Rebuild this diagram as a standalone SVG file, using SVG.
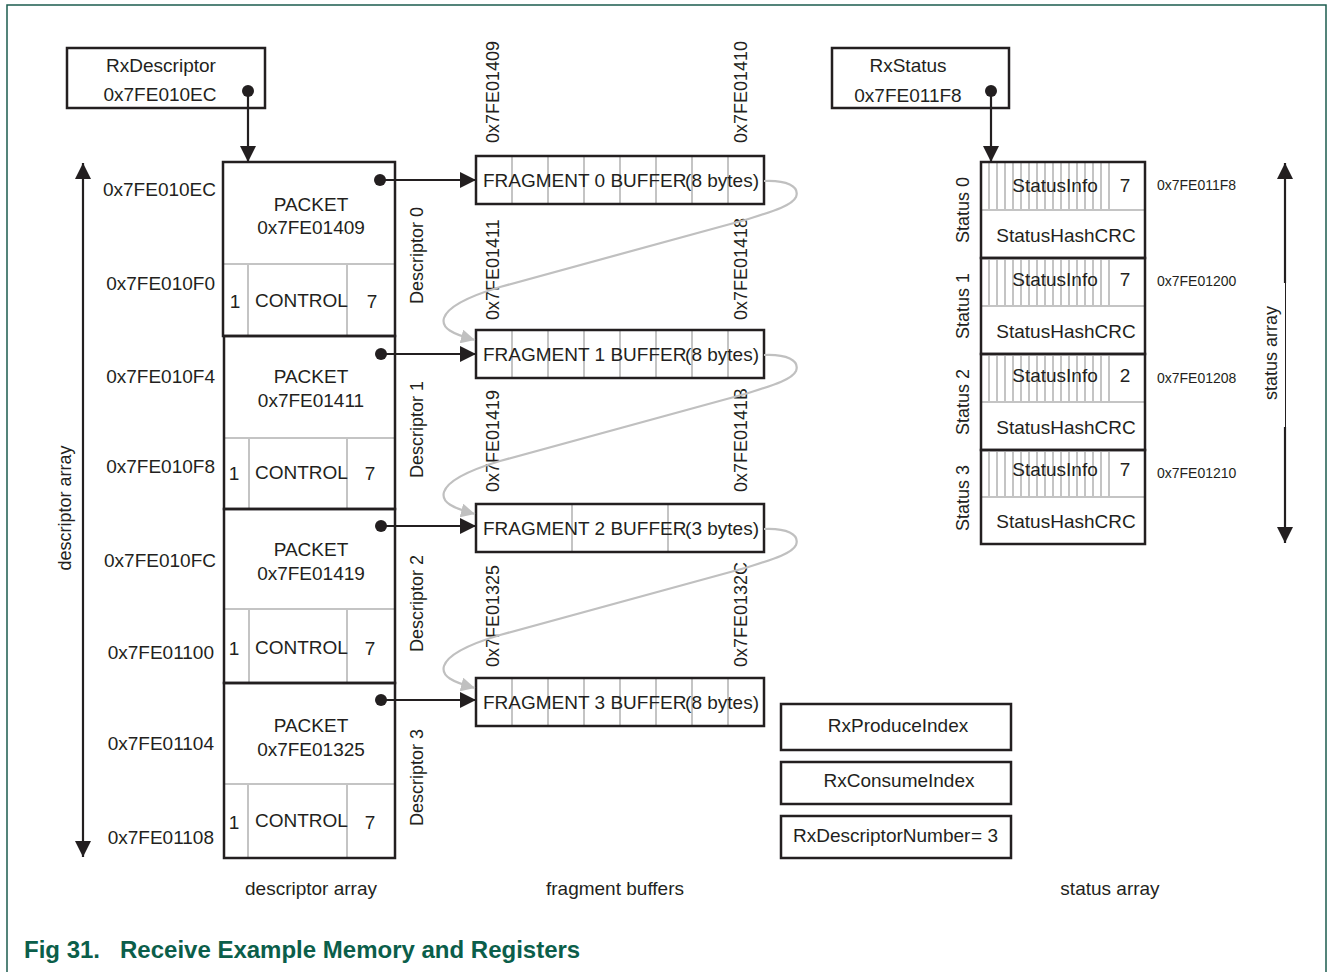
<svg xmlns="http://www.w3.org/2000/svg" width="1328" height="972" viewBox="0 0 1328 972">
<style>
text{font-family:"Liberation Sans",Arial,sans-serif;fill:#231f20;font-size:19px}
.c{text-anchor:middle}
.e{text-anchor:end}
.r{font-size:18px}
.s{font-size:14px}
.box{fill:none;stroke:#231f20;stroke-width:2.5}
.g{fill:none;stroke:#c4c4c4;stroke-width:2}
.ln{fill:none;stroke:#231f20;stroke-width:2.2}
.gc{fill:none;stroke:#c0c0c0;stroke-width:2.2}
.dot{fill:#231f20}
.cap{font-weight:bold;font-size:24px;fill:#0b5e4a}
</style>
<defs>
<marker id="ah" markerUnits="userSpaceOnUse" markerWidth="16" markerHeight="16" viewBox="0 0 16 16" refX="16" refY="8" orient="auto-start-reverse"><path d="M0,0 L16,8 L0,16 z" fill="#231f20"/></marker>
<marker id="gh" markerUnits="userSpaceOnUse" markerWidth="14" markerHeight="14" viewBox="0 0 14 14" refX="14" refY="7" orient="auto"><path d="M0,0 L14,7 L0,14 z" fill="#c0c0c0"/></marker>
</defs>
<rect width="1328" height="972" fill="#ffffff"/>
<path d="M7,972 V5 H1326 V972" fill="none" stroke="#1d5c4f" stroke-width="1.5"/>

<g id="rxdescriptor">
<rect class="box" x="67" y="48" width="198" height="60"/>
<text class="c" x="161" y="72">RxDescriptor</text>
<text class="c" x="160" y="101">0x7FE010EC</text>
<circle class="dot" cx="248" cy="91" r="6"/>
</g>

<g id="rxstatus">
<rect class="box" x="832" y="48" width="177" height="60"/>
<text class="c" x="908" y="72">RxStatus</text>
<text class="c" x="908" y="102">0x7FE011F8</text>
<circle class="dot" cx="991" cy="91" r="6"/>
</g>

<g id="descriptor-array-axis">
<text class="e" x="216" y="196">0x7FE010EC</text>
<text class="e" x="215" y="290">0x7FE010F0</text>
<text class="e" x="215" y="383">0x7FE010F4</text>
<text class="e" x="215" y="473">0x7FE010F8</text>
<text class="e" x="216" y="567">0x7FE010FC</text>
<text class="e" x="214" y="659">0x7FE01100</text>
<text class="e" x="214" y="750">0x7FE01104</text>
<text class="e" x="214" y="844">0x7FE01108</text>
<text class="c r" x="71" y="508" transform="rotate(-90 71 508)">descriptor array</text>
</g>

<g id="descriptor0">
<path class="g" d="M223,264 H395 M248,264 V336 M347,264 V336"/>
<rect class="box" x="223" y="162" width="172" height="174"/>
<text class="c" x="311" y="211">PACKET</text>
<text class="c" x="311" y="234">0x7FE01409</text>
<text class="c" x="235" y="308">1</text>
<text x="255" y="307">CONTROL</text>
<text class="c" x="372" y="308">7</text>
<circle class="dot" cx="380" cy="180" r="6"/>
<text class="r" x="423" y="304" transform="rotate(-90 423 304)">Descriptor 0</text>
</g>

<g id="descriptor1">
<path class="g" d="M224,438 H395 M249,438 V509 M347,438 V509"/>
<rect class="box" x="224" y="336" width="171" height="173"/>
<text class="c" x="311" y="383">PACKET</text>
<text class="c" x="311" y="407">0x7FE01411</text>
<text class="c" x="234" y="480">1</text>
<text x="255" y="479">CONTROL</text>
<text class="c" x="370" y="480">7</text>
<circle class="dot" cx="381" cy="354" r="6"/>
<text class="r" x="423" y="478" transform="rotate(-90 423 478)">Descriptor 1</text>
</g>

<g id="descriptor2">
<path class="g" d="M224,609 H395 M249,609 V683 M347,609 V683"/>
<rect class="box" x="224" y="509" width="171" height="174"/>
<text class="c" x="311" y="556">PACKET</text>
<text class="c" x="311" y="580">0x7FE01419</text>
<text class="c" x="234" y="655">1</text>
<text x="255" y="654">CONTROL</text>
<text class="c" x="370" y="655">7</text>
<circle class="dot" cx="381" cy="526" r="6"/>
<text class="r" x="423" y="652" transform="rotate(-90 423 652)">Descriptor 2</text>
</g>

<g id="descriptor3">
<path class="g" d="M224,784 H395 M248,784 V858 M347,784 V858"/>
<rect class="box" x="224" y="683" width="171" height="175"/>
<text class="c" x="311" y="732">PACKET</text>
<text class="c" x="311" y="756">0x7FE01325</text>
<text class="c" x="234" y="829">1</text>
<text x="255" y="827">CONTROL</text>
<text class="c" x="370" y="829">7</text>
<circle class="dot" cx="381" cy="700" r="6"/>
<text class="r" x="423" y="826" transform="rotate(-90 423 826)">Descriptor 3</text>
</g>

<g id="fragment0">
<path class="g" d="M512,156 V204 M548,156 V204 M584,156 V204 M620,156 V204 M656,156 V204 M692,156 V204 M728,156 V204"/>
<rect class="box" x="476" y="156" width="288" height="48"/>
<text x="483" y="187">FRAGMENT 0 BUFFER</text>
<text class="e" x="759" y="187">(8 bytes)</text>
<text class="r" x="499" y="143" transform="rotate(-90 499 143)">0x7FE01409</text>
<text class="r" x="747" y="143" transform="rotate(-90 747 143)">0x7FE01410</text>
</g>

<g id="fragment1">
<path class="g" d="M512,330 V378 M548,330 V378 M584,330 V378 M620,330 V378 M656,330 V378 M692,330 V378 M728,330 V378"/>
<rect class="box" x="476" y="330" width="288" height="48"/>
<text x="483" y="361">FRAGMENT 1 BUFFER</text>
<text class="e" x="759" y="361">(8 bytes)</text>
<text class="r" x="499" y="320" transform="rotate(-90 499 320)">0x7FE01411</text>
<text class="r" x="747" y="320" transform="rotate(-90 747 320)">0x7FE01418</text>
</g>

<g id="fragment2">
<path class="g" d="M572,504 V552 M668,504 V552"/>
<rect class="box" x="476" y="504" width="288" height="48"/>
<text x="483" y="535">FRAGMENT 2 BUFFER</text>
<text class="e" x="759" y="535">(3 bytes)</text>
<text class="r" x="499" y="492" transform="rotate(-90 499 492)">0x7FE01419</text>
<text class="r" x="747" y="492" transform="rotate(-90 747 492)">0x7FE0141B</text>
</g>

<g id="fragment3">
<path class="g" d="M512,678 V726 M548,678 V726 M584,678 V726 M620,678 V726 M656,678 V726 M692,678 V726 M728,678 V726"/>
<rect class="box" x="476" y="678" width="288" height="48"/>
<text x="483" y="709">FRAGMENT 3 BUFFER</text>
<text class="e" x="759" y="709">(8 bytes)</text>
<text class="r" x="499" y="667" transform="rotate(-90 499 667)">0x7FE01325</text>
<text class="r" x="747" y="667" transform="rotate(-90 747 667)">0x7FE0132C</text>
</g>

<g id="status0">
<path class="g" d="M981,210 H1145 M989,162 V210 M997,162 V210 M1005,162 V210 M1013,162 V210 M1021,162 V210 M1029,162 V210 M1037,162 V210 M1045,162 V210 M1053,162 V210 M1061,162 V210 M1069,162 V210 M1077,162 V210 M1085,162 V210 M1093,162 V210 M1101,162 V210 M1109,162 V210"/>
<rect class="box" x="981" y="162" width="164" height="96"/>
<text class="c" x="1055" y="192">StatusInfo</text>
<text class="c" x="1125" y="192">7</text>
<text class="c" x="1066" y="242">StatusHashCRC</text>
<text class="s" x="1157" y="190">0x7FE011F8</text>
<text class="r" x="969" y="243" transform="rotate(-90 969 243)">Status 0</text>
</g>

<g id="status1">
<path class="g" d="M981,306 H1145 M989,258 V306 M997,258 V306 M1005,258 V306 M1013,258 V306 M1021,258 V306 M1029,258 V306 M1037,258 V306 M1045,258 V306 M1053,258 V306 M1061,258 V306 M1069,258 V306 M1077,258 V306 M1085,258 V306 M1093,258 V306 M1101,258 V306 M1109,258 V306"/>
<rect class="box" x="981" y="258" width="164" height="96"/>
<text class="c" x="1055" y="286">StatusInfo</text>
<text class="c" x="1125" y="286">7</text>
<text class="c" x="1066" y="338">StatusHashCRC</text>
<text class="s" x="1157" y="286">0x7FE01200</text>
<text class="r" x="969" y="339" transform="rotate(-90 969 339)">Status 1</text>
</g>

<g id="status2">
<path class="g" d="M981,402 H1145 M989,354 V402 M997,354 V402 M1005,354 V402 M1013,354 V402 M1021,354 V402 M1029,354 V402 M1037,354 V402 M1045,354 V402 M1053,354 V402 M1061,354 V402 M1069,354 V402 M1077,354 V402 M1085,354 V402 M1093,354 V402 M1101,354 V402 M1109,354 V402"/>
<rect class="box" x="981" y="354" width="164" height="96"/>
<text class="c" x="1055" y="382">StatusInfo</text>
<text class="c" x="1125" y="382">2</text>
<text class="c" x="1066" y="434">StatusHashCRC</text>
<text class="s" x="1157" y="383">0x7FE01208</text>
<text class="r" x="969" y="435" transform="rotate(-90 969 435)">Status 2</text>
</g>

<g id="status3">
<path class="g" d="M981,497 H1145 M989,450 V497 M997,450 V497 M1005,450 V497 M1013,450 V497 M1021,450 V497 M1029,450 V497 M1037,450 V497 M1045,450 V497 M1053,450 V497 M1061,450 V497 M1069,450 V497 M1077,450 V497 M1085,450 V497 M1093,450 V497 M1101,450 V497 M1109,450 V497"/>
<rect class="box" x="981" y="450" width="164" height="94"/>
<text class="c" x="1055" y="476">StatusInfo</text>
<text class="c" x="1125" y="476">7</text>
<text class="c" x="1066" y="528">StatusHashCRC</text>
<text class="s" x="1157" y="478">0x7FE01210</text>
<text class="r" x="969" y="531" transform="rotate(-90 969 531)">Status 3</text>
</g>

<g id="status-array-axis">
<text class="c r" x="1277" y="353" transform="rotate(-90 1277 353)">status array</text>
</g>

<g id="rxproduceindex">
<rect class="box" x="781" y="704" width="230" height="46"/>
<text class="c" x="898" y="732">RxProduceIndex</text>
</g>
<g id="rxconsumeindex">
<rect class="box" x="781" y="762" width="230" height="42"/>
<text class="c" x="899" y="787">RxConsumeIndex</text>
</g>
<g id="rxdescriptornumber">
<rect class="box" x="781" y="816" width="230" height="42"/>
<text x="793" y="842">RxDescriptorNumber</text>
<text class="e" x="998" y="842">= 3</text>
</g>

<g id="labels">
<text class="c" x="311" y="895">descriptor array</text>
<text class="c" x="615" y="895">fragment buffers</text>
<text class="c" x="1110" y="895">status array</text>
<text class="cap" x="24" y="958">Fig 31.</text>
<text class="cap" x="120" y="958">Receive Example Memory and Registers</text>
</g>

<g id="connectors">
<path class="ln" d="M248,91 V162" marker-end="url(#ah)"/>
<path class="ln" d="M991,91 V162" marker-end="url(#ah)"/>
<path class="ln" d="M83,163 V857" marker-start="url(#ah)" marker-end="url(#ah)"/>
<path class="ln" d="M1285,163 V283" marker-start="url(#ah)"/>
<path fill="none" stroke="#231f20" stroke-width="1" d="M1285.5,283 V427"/>
<path class="ln" d="M1285,427 V543" marker-end="url(#ah)"/>
<path class="ln" d="M380,180 H476" marker-end="url(#ah)"/>
<path class="ln" d="M381,354 H476" marker-end="url(#ah)"/>
<path class="ln" d="M381,526 H476" marker-end="url(#ah)"/>
<path class="ln" d="M381,700 H476" marker-end="url(#ah)"/>
<path class="gc" d="M764,181 C786,180 800,186 796,197 C792,206 770,212 745,220 L500,287 C470,296 448,306 444,318 C441,328 452,334 475,340" marker-end="url(#gh)"/>
<path class="gc" d="M764,355 C786,354 800,360 796,371 C792,380 770,386 745,394 L500,461 C470,470 448,480 444,492 C441,502 452,508 475,514" marker-end="url(#gh)"/>
<path class="gc" d="M764,529 C786,528 800,534 796,545 C792,554 770,560 745,568 L500,635 C470,644 448,654 444,666 C441,676 452,682 475,688" marker-end="url(#gh)"/>
</g>
</svg>
